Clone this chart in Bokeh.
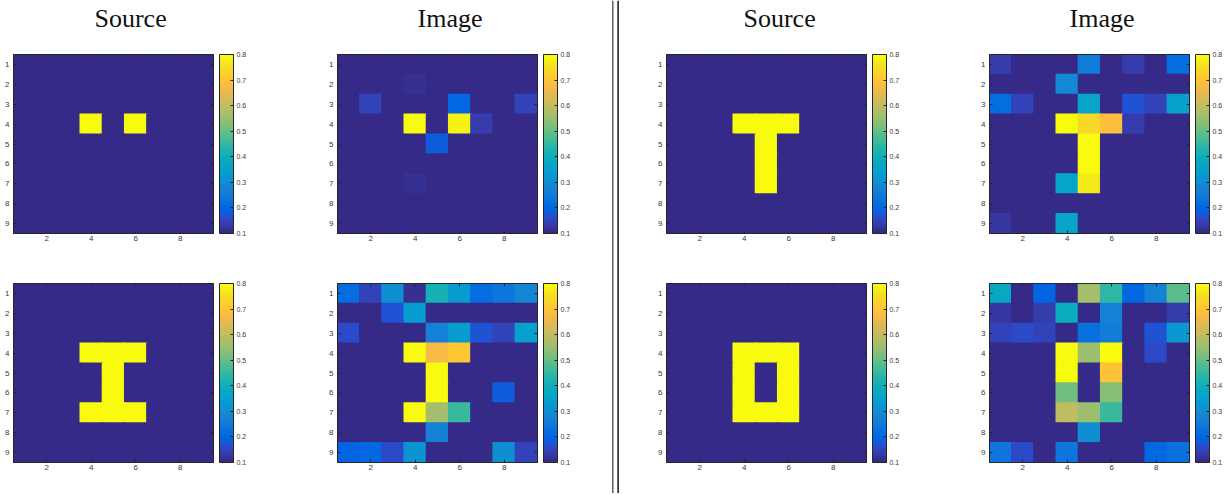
from bokeh.plotting import figure
from bokeh.models import (ColumnDataSource, Range1d, LinearAxis, FixedTicker, ColorBar,
                          LinearColorMapper, Span)
from bokeh.layouts import row, column
from bokeh.embed import file_html
from bokeh.resources import INLINE

# ---------------- data (rows 1..9 top to bottom, columns 1..9) ----------------
src_dots = [
    [0.1, 0.1, 0.1, 0.1, 0.1, 0.1, 0.1, 0.1, 0.1],
    [0.1, 0.1, 0.1, 0.1, 0.1, 0.1, 0.1, 0.1, 0.1],
    [0.1, 0.1, 0.1, 0.1, 0.1, 0.1, 0.1, 0.1, 0.1],
    [0.1, 0.1, 0.1, 0.8, 0.1, 0.8, 0.1, 0.1, 0.1],
    [0.1, 0.1, 0.1, 0.1, 0.1, 0.1, 0.1, 0.1, 0.1],
    [0.1, 0.1, 0.1, 0.1, 0.1, 0.1, 0.1, 0.1, 0.1],
    [0.1, 0.1, 0.1, 0.1, 0.1, 0.1, 0.1, 0.1, 0.1],
    [0.1, 0.1, 0.1, 0.1, 0.1, 0.1, 0.1, 0.1, 0.1],
    [0.1, 0.1, 0.1, 0.1, 0.1, 0.1, 0.1, 0.1, 0.1],
]
img_dots = [
    [0.10, 0.10, 0.10, 0.10, 0.10, 0.10, 0.10, 0.10, 0.10],
    [0.10, 0.10, 0.10, 0.12, 0.10, 0.10, 0.10, 0.10, 0.10],
    [0.10, 0.15, 0.10, 0.10, 0.10, 0.20, 0.10, 0.10, 0.15],
    [0.10, 0.10, 0.10, 0.80, 0.10, 0.78, 0.14, 0.10, 0.10],
    [0.10, 0.10, 0.10, 0.10, 0.18, 0.10, 0.10, 0.10, 0.10],
    [0.10, 0.10, 0.10, 0.10, 0.10, 0.10, 0.10, 0.10, 0.10],
    [0.10, 0.10, 0.10, 0.12, 0.10, 0.10, 0.10, 0.10, 0.10],
    [0.10, 0.10, 0.10, 0.10, 0.10, 0.10, 0.10, 0.10, 0.10],
    [0.10, 0.10, 0.10, 0.10, 0.10, 0.10, 0.10, 0.10, 0.10],
]
src_I = [
    [0.1, 0.1, 0.1, 0.1, 0.1, 0.1, 0.1, 0.1, 0.1],
    [0.1, 0.1, 0.1, 0.1, 0.1, 0.1, 0.1, 0.1, 0.1],
    [0.1, 0.1, 0.1, 0.1, 0.1, 0.1, 0.1, 0.1, 0.1],
    [0.1, 0.1, 0.1, 0.8, 0.8, 0.8, 0.1, 0.1, 0.1],
    [0.1, 0.1, 0.1, 0.1, 0.8, 0.1, 0.1, 0.1, 0.1],
    [0.1, 0.1, 0.1, 0.1, 0.8, 0.1, 0.1, 0.1, 0.1],
    [0.1, 0.1, 0.1, 0.8, 0.8, 0.8, 0.1, 0.1, 0.1],
    [0.1, 0.1, 0.1, 0.1, 0.1, 0.1, 0.1, 0.1, 0.1],
    [0.1, 0.1, 0.1, 0.1, 0.1, 0.1, 0.1, 0.1, 0.1],
]
img_I = [
    [0.21, 0.15, 0.30, 0.12, 0.41, 0.34, 0.21, 0.24, 0.28],
    [0.10, 0.10, 0.17, 0.34, 0.10, 0.10, 0.10, 0.10, 0.10],
    [0.16, 0.10, 0.10, 0.10, 0.27, 0.34, 0.17, 0.15, 0.35],
    [0.10, 0.10, 0.10, 0.80, 0.67, 0.71, 0.10, 0.10, 0.10],
    [0.10, 0.10, 0.10, 0.10, 0.80, 0.10, 0.10, 0.10, 0.10],
    [0.10, 0.10, 0.10, 0.10, 0.80, 0.10, 0.10, 0.18, 0.10],
    [0.10, 0.10, 0.10, 0.80, 0.56, 0.46, 0.10, 0.10, 0.10],
    [0.10, 0.10, 0.10, 0.10, 0.27, 0.10, 0.10, 0.10, 0.10],
    [0.19, 0.20, 0.16, 0.31, 0.10, 0.10, 0.10, 0.30, 0.15],
]
src_T = [
    [0.1, 0.1, 0.1, 0.1, 0.1, 0.1, 0.1, 0.1, 0.1],
    [0.1, 0.1, 0.1, 0.1, 0.1, 0.1, 0.1, 0.1, 0.1],
    [0.1, 0.1, 0.1, 0.1, 0.1, 0.1, 0.1, 0.1, 0.1],
    [0.1, 0.1, 0.1, 0.8, 0.8, 0.8, 0.1, 0.1, 0.1],
    [0.1, 0.1, 0.1, 0.1, 0.8, 0.1, 0.1, 0.1, 0.1],
    [0.1, 0.1, 0.1, 0.1, 0.8, 0.1, 0.1, 0.1, 0.1],
    [0.1, 0.1, 0.1, 0.1, 0.8, 0.1, 0.1, 0.1, 0.1],
    [0.1, 0.1, 0.1, 0.1, 0.1, 0.1, 0.1, 0.1, 0.1],
    [0.1, 0.1, 0.1, 0.1, 0.1, 0.1, 0.1, 0.1, 0.1],
]
img_T = [
    [0.14, 0.10, 0.10, 0.10, 0.26, 0.10, 0.14, 0.10, 0.21],
    [0.10, 0.10, 0.10, 0.29, 0.10, 0.10, 0.10, 0.10, 0.10],
    [0.22, 0.15, 0.10, 0.10, 0.36, 0.10, 0.17, 0.15, 0.35],
    [0.10, 0.10, 0.10, 0.80, 0.74, 0.68, 0.14, 0.10, 0.10],
    [0.10, 0.10, 0.10, 0.10, 0.80, 0.10, 0.10, 0.10, 0.10],
    [0.10, 0.10, 0.10, 0.10, 0.79, 0.10, 0.10, 0.10, 0.10],
    [0.10, 0.10, 0.10, 0.36, 0.77, 0.10, 0.10, 0.10, 0.10],
    [0.10, 0.10, 0.10, 0.10, 0.10, 0.10, 0.10, 0.10, 0.10],
    [0.13, 0.10, 0.10, 0.36, 0.10, 0.10, 0.10, 0.10, 0.10],
]
src_O = [
    [0.1, 0.1, 0.1, 0.1, 0.1, 0.1, 0.1, 0.1, 0.1],
    [0.1, 0.1, 0.1, 0.1, 0.1, 0.1, 0.1, 0.1, 0.1],
    [0.1, 0.1, 0.1, 0.1, 0.1, 0.1, 0.1, 0.1, 0.1],
    [0.1, 0.1, 0.1, 0.8, 0.8, 0.8, 0.1, 0.1, 0.1],
    [0.1, 0.1, 0.1, 0.8, 0.1, 0.8, 0.1, 0.1, 0.1],
    [0.1, 0.1, 0.1, 0.8, 0.1, 0.8, 0.1, 0.1, 0.1],
    [0.1, 0.1, 0.1, 0.8, 0.8, 0.8, 0.1, 0.1, 0.1],
    [0.1, 0.1, 0.1, 0.1, 0.1, 0.1, 0.1, 0.1, 0.1],
    [0.1, 0.1, 0.1, 0.1, 0.1, 0.1, 0.1, 0.1, 0.1],
]
img_O = [
    [0.38, 0.10, 0.19, 0.11, 0.56, 0.45, 0.20, 0.27, 0.49],
    [0.13, 0.11, 0.14, 0.39, 0.10, 0.27, 0.10, 0.10, 0.14],
    [0.15, 0.16, 0.15, 0.10, 0.23, 0.26, 0.10, 0.17, 0.32],
    [0.10, 0.10, 0.10, 0.80, 0.55, 0.80, 0.10, 0.16, 0.10],
    [0.10, 0.10, 0.10, 0.80, 0.10, 0.70, 0.10, 0.10, 0.10],
    [0.10, 0.10, 0.10, 0.51, 0.10, 0.53, 0.10, 0.10, 0.10],
    [0.10, 0.10, 0.10, 0.60, 0.55, 0.46, 0.10, 0.10, 0.10],
    [0.10, 0.10, 0.10, 0.10, 0.30, 0.10, 0.10, 0.10, 0.10],
    [0.24, 0.16, 0.10, 0.24, 0.10, 0.10, 0.10, 0.20, 0.23],
]

x_ticks = [2, 4, 6, 8]
y_ticks = [1, 2, 3, 4, 5, 6, 7, 8, 9]
cbar_ticks = [0.1, 0.2, 0.3, 0.4, 0.5, 0.6, 0.7, 0.8]
clim = (0.1, 0.8)
titles = ["Source", "Image"]

# MATLAB parula (64)
PARULA = [
    "#352a87", "#363093", "#3637a0", "#353dad", "#3243ba", "#2c4ac7", "#2053d4", "#0f5cdd",
    "#0363e1", "#0268e1", "#046de0", "#0871de", "#0d75dc", "#1079da", "#127dd8", "#1481d6",
    "#1485d4", "#1389d3", "#108ed2", "#0c93d2", "#0998d1", "#079ccf", "#06a0cd", "#06a4ca",
    "#06a7c6", "#07a9c2", "#0aacbe", "#0faeb9", "#15b1b4", "#1db3af", "#25b5a9", "#2eb7a4",
    "#38b99e", "#42bb98", "#4dbc92", "#59bd8c", "#65be86", "#71bf80", "#7cbf7b", "#87bf77",
    "#92bf73", "#9cbf6f", "#a5be6b", "#aebe67", "#b7bd64", "#c0bc60", "#c8bc5d", "#d1bb59",
    "#d9ba56", "#e1b952", "#e9b94e", "#f1b94a", "#f8bb44", "#fdbe3d", "#ffc337", "#fec832",
    "#fcce2e", "#fad32a", "#f7d826", "#f5de21", "#f5e41d", "#f5eb18", "#f6f313", "#f9fb0e",
]

AX_COL = "#262626"
LBL_COL = "#3a3a3a"
FONT = "Liberation Sans"


def spacer_axis(size):
    # invisible axis used only to reserve `size` pixels in a side panel
    return LinearAxis(ticker=FixedTicker(ticks=[5]), major_tick_in=0, major_tick_out=size,
                      major_tick_line_color=None, minor_tick_line_color=None,
                      axis_line_color=None, major_label_text_color=None,
                      major_label_text_font_size="0px", major_label_standoff=0)


def make_panel(grid, top, left, right, title=None, title_offset=0):
    xs, ys, vs = [], [], []
    for r, rowvals in enumerate(grid):
        for c, v in enumerate(rowvals):
            xs.append(c + 1)
            ys.append(r + 1)
            vs.append(v)
    src = ColumnDataSource(dict(x=xs, y=ys, v=vs))
    mapper = LinearColorMapper(palette=PARULA, low=clim[0], high=clim[1])
    p = figure(x_range=Range1d(0.5, 9.5), y_range=Range1d(9.5, 0.5),
               frame_width=200, frame_height=179,
               min_border_left=left, min_border_right=right,
               min_border_top=54 if top else 10, min_border_bottom=40 if top else 31,
               toolbar_location=None, output_backend="svg",
               title=title if title else None)
    p.rect(x="x", y="y", width=1.06, height=1.06, source=src,
           fill_color={"field": "v", "transform": mapper}, line_color=None)
    p.grid.visible = False
    p.outline_line_color = AX_COL
    p.outline_line_width = 1
    p.background_fill_color = None
    p.border_fill_color = None

    if title:
        p.title.align = "left"
        p.title.offset = title_offset
        p.title.vertical_align = "bottom"
        p.title.text_font = "Liberation Serif"
        p.title.text_font_size = "26px"
        p.title.text_font_style = "normal"
        p.title.text_color = "#111111"
        p.title.standoff = 2

    for ax, ticks in ((p.xaxis[0], x_ticks), (p.yaxis[0], y_ticks)):
        ax.ticker = FixedTicker(ticks=ticks)
        ax.major_tick_in = 3
        ax.major_tick_out = 0
        ax.minor_tick_line_color = None
        ax.axis_line_color = AX_COL
        ax.major_tick_line_color = AX_COL
        ax.major_label_text_font = FONT
        ax.major_label_text_font_size = "8px"
        ax.major_label_text_color = LBL_COL
    p.xaxis[0].major_label_standoff = 2
    p.yaxis[0].major_label_standoff = 4

    for loc, ticks in (("above", x_ticks), ("right", y_ticks)):
        ax = LinearAxis(ticker=FixedTicker(ticks=ticks), major_tick_in=3, major_tick_out=0,
                        minor_tick_line_color=None, axis_line_color=AX_COL,
                        major_tick_line_color=AX_COL, major_label_text_font_size="0px",
                        major_label_text_color=None, major_label_standoff=0)
        p.add_layout(ax, loc)
    if title:
        p.add_layout(spacer_axis(21), "above")
    p.add_layout(spacer_axis(6), "right")

    cb = ColorBar(color_mapper=mapper, ticker=FixedTicker(ticks=cbar_ticks),
                  width=14, padding=0, margin=0, location="top_left",
                  major_tick_in=3, major_tick_out=0, major_tick_line_color=AX_COL,
                  minor_tick_line_color=None, bar_line_color=AX_COL, bar_line_width=1,
                  border_line_color=None, background_fill_color=None,
                  major_label_text_font=FONT, major_label_text_font_size="7px",
                  major_label_text_color=LBL_COL, label_standoff=3)
    p.add_layout(cb, "right")
    return p


def divider(h):
    d = figure(width=10, height=h, x_range=Range1d(0, 10), y_range=Range1d(0, 1),
               x_axis_location=None, y_axis_location=None, min_border=0,
               toolbar_location=None, output_backend="svg")
    d.grid.visible = False
    d.outline_line_color = None
    d.add_layout(Span(location=2.3, dimension="height", line_color="#555555", line_width=1.4))
    d.add_layout(Span(location=7.6, dimension="height", line_color="#000000", line_width=1.4))
    return d


colA = column(make_panel(src_dots, True, 13, 111, titles[0], 81),
              make_panel(src_I, False, 13, 111), spacing=0)
colB = column(make_panel(img_dots, True, 13, 73, titles[1], 80),
              make_panel(img_I, False, 13, 73), spacing=0)
colC = column(make_panel(src_T, True, 46, 110, titles[0], 77),
              make_panel(src_O, False, 46, 110), spacing=0)
colD = column(make_panel(img_T, True, 13, 32, titles[1], 80),
              make_panel(img_O, False, 13, 32), spacing=0)

root = row(colA, colB, divider(493), colC, colD, spacing=0)

open("out.html", "w").write(file_html(root, INLINE))
